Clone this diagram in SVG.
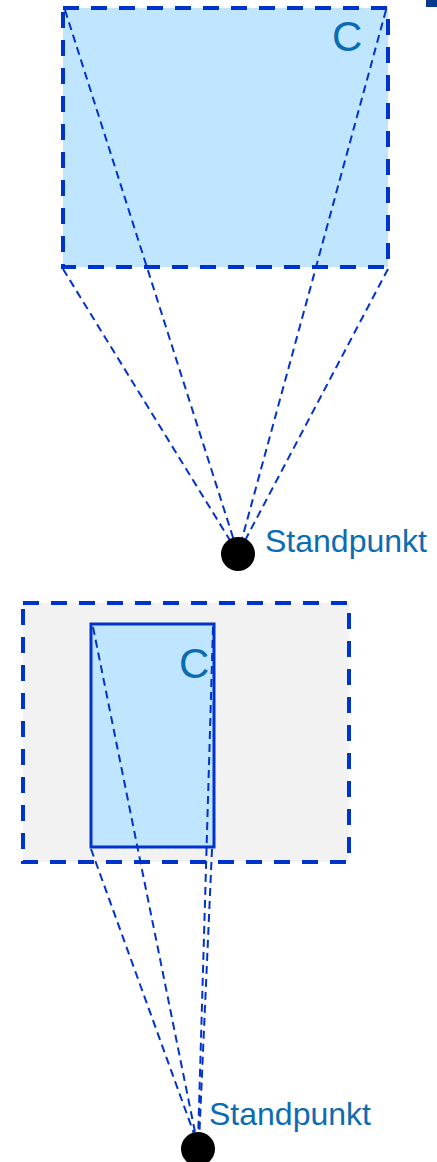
<svg xmlns="http://www.w3.org/2000/svg" width="437" height="1162" viewBox="0 0 437 1162">
<style>
.lbl{font-family:"Liberation Sans",Arial,sans-serif;fill:#0B6BB3}
.big{font-size:42px}
.sp{font-size:32px}
.ray{fill:none;stroke:#0033CC;stroke-width:2;stroke-dasharray:8,5}
.dashbox{stroke:#0033CC;stroke-width:4;stroke-dasharray:16,12}
</style>
<rect x="426" y="0" width="11" height="7" fill="#0A3A8C"/>
<g id="top-view">
<rect x="63" y="8" width="325" height="259" fill="#C0E6FF" class="dashbox"/>
<text class="lbl big" x="332" y="51">C</text>
</g>
<g id="front-view">
<rect x="23" y="603" width="326" height="259" fill="#F2F2F2" class="dashbox"/>
<rect x="91" y="624" width="123" height="223" fill="#C0E6FF" stroke="#0033CC" stroke-width="3"/>
<text class="lbl big" x="179" y="678">C</text>
</g>
<g id="connectors">
<line class="ray" x1="65" y1="10" x2="237" y2="550"/>
<line class="ray" x1="386" y1="10" x2="239" y2="550"/>
<line class="ray" x1="63" y1="269" x2="236" y2="550"/>
<line class="ray" x1="388" y1="269" x2="240" y2="550"/>
<line class="ray" x1="93" y1="627" x2="197" y2="1142"/>
<line class="ray" x1="91" y1="849" x2="197" y2="1142"/>
<line class="ray" x1="213" y1="627" x2="198" y2="1142"/>
<line class="ray" x1="212" y1="849" x2="199" y2="1142"/>
</g>
<g id="standpunkt-1">
<circle cx="238" cy="554" r="17" fill="#000"/>
<text class="lbl sp" x="265" y="552">Standpunkt</text>
</g>
<g id="standpunkt-2">
<circle cx="198" cy="1149" r="17" fill="#000"/>
<text class="lbl sp" x="209" y="1125">Standpunkt</text>
</g>
</svg>
